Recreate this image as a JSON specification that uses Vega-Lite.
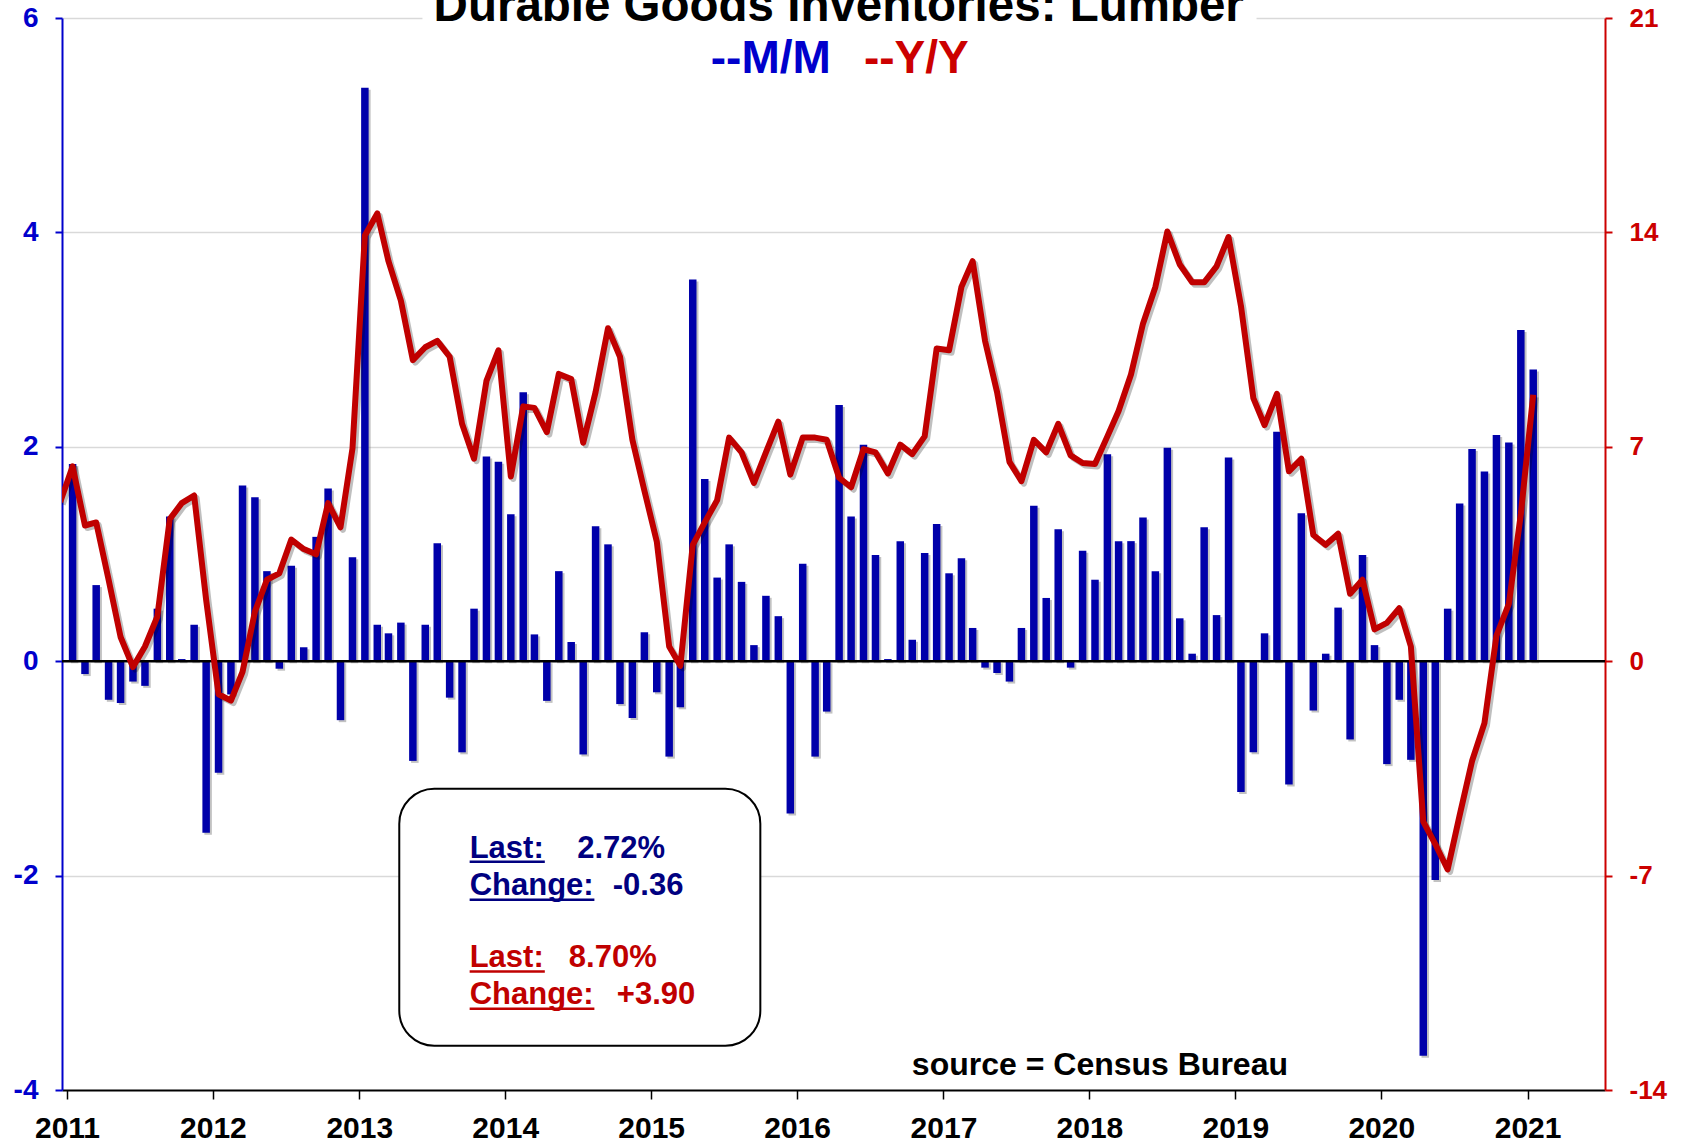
{
"$schema": "https://vega.github.io/schema/vega-lite/v6.json",
"width": 1543, "height": 1072,
"autosize": "none",
"padding": {"left": 62, "top": 18, "right": 82, "bottom": 52},
"background": "white",
"config": {"view": {"stroke": null}, "font": "Liberation Sans"},
"data": {"values": [
{"date":"2010-12-15","mm":null,"yy":5.2},
{"date":"2011-01-15","mm":1.84,"yy":6.36},{"date":"2011-02-15","mm":-0.12,"yy":4.43},{"date":"2011-03-15","mm":0.71,"yy":4.53},{"date":"2011-04-15","mm":-0.36,"yy":2.66},{"date":"2011-05-15","mm":-0.39,"yy":0.79},{"date":"2011-06-15","mm":-0.19,"yy":-0.19},{"date":"2011-07-15","mm":-0.23,"yy":0.48},{"date":"2011-08-15","mm":0.49,"yy":1.46},{"date":"2011-09-15","mm":1.35,"yy":4.64},{"date":"2011-10-15","mm":0.02,"yy":5.16},{"date":"2011-11-15","mm":0.34,"yy":5.41},{"date":"2011-12-15","mm":-1.60,"yy":2.0},
{"date":"2012-01-15","mm":-1.04,"yy":-1.08},{"date":"2012-02-15","mm":-0.31,"yy":-1.29},{"date":"2012-03-15","mm":1.64,"yy":-0.35},{"date":"2012-04-15","mm":1.53,"yy":1.62},{"date":"2012-05-15","mm":0.84,"yy":2.66},{"date":"2012-06-15","mm":-0.07,"yy":2.87},{"date":"2012-07-15","mm":0.89,"yy":3.97},{"date":"2012-08-15","mm":0.13,"yy":3.66},{"date":"2012-09-15","mm":1.16,"yy":3.49},{"date":"2012-10-15","mm":1.61,"yy":5.16},{"date":"2012-11-15","mm":-0.55,"yy":4.37},{"date":"2012-12-15","mm":0.97,"yy":6.95},
{"date":"2013-01-15","mm":5.35,"yy":13.9},{"date":"2013-02-15","mm":0.34,"yy":14.62},{"date":"2013-03-15","mm":0.26,"yy":13.06},{"date":"2013-04-15","mm":0.36,"yy":11.77},{"date":"2013-05-15","mm":-0.93,"yy":9.83},{"date":"2013-06-15","mm":0.34,"yy":10.25},{"date":"2013-07-15","mm":1.10,"yy":10.46},{"date":"2013-08-15","mm":-0.34,"yy":9.94},{"date":"2013-09-15","mm":-0.85,"yy":7.75},{"date":"2013-10-15","mm":0.49,"yy":6.61},{"date":"2013-11-15","mm":1.91,"yy":9.15},{"date":"2013-12-15","mm":1.86,"yy":10.15},
{"date":"2014-01-15","mm":1.37,"yy":6.03},{"date":"2014-02-15","mm":2.51,"yy":8.32},{"date":"2014-03-15","mm":0.25,"yy":8.27},{"date":"2014-04-15","mm":-0.37,"yy":7.48},{"date":"2014-05-15","mm":0.84,"yy":9.38},{"date":"2014-06-15","mm":0.18,"yy":9.21},{"date":"2014-07-15","mm":-0.87,"yy":7.13},{"date":"2014-08-15","mm":1.26,"yy":8.79},{"date":"2014-09-15","mm":1.09,"yy":10.87},{"date":"2014-10-15","mm":-0.40,"yy":9.94},{"date":"2014-11-15","mm":-0.53,"yy":7.23},{"date":"2014-12-15","mm":0.27,"yy":5.57},
{"date":"2015-01-15","mm":-0.29,"yy":3.91},{"date":"2015-02-15","mm":-0.89,"yy":0.48},{"date":"2015-03-15","mm":-0.43,"yy":-0.15},{"date":"2015-04-15","mm":3.56,"yy":3.80},{"date":"2015-05-15","mm":1.70,"yy":4.53},{"date":"2015-06-15","mm":0.78,"yy":5.26},{"date":"2015-07-15","mm":1.09,"yy":7.30},{"date":"2015-08-15","mm":0.74,"yy":6.82},{"date":"2015-09-15","mm":0.15,"yy":5.82},{"date":"2015-10-15","mm":0.61,"yy":6.82},{"date":"2015-11-15","mm":0.42,"yy":7.82},{"date":"2015-12-15","mm":-1.42,"yy":6.09},
{"date":"2016-01-15","mm":0.91,"yy":7.30},{"date":"2016-02-15","mm":-0.89,"yy":7.30},{"date":"2016-03-15","mm":-0.47,"yy":7.23},{"date":"2016-04-15","mm":2.39,"yy":5.99},{"date":"2016-05-15","mm":1.35,"yy":5.68},{"date":"2016-06-15","mm":2.02,"yy":6.92},{"date":"2016-07-15","mm":0.99,"yy":6.82},{"date":"2016-08-15","mm":0.02,"yy":6.13},{"date":"2016-09-15","mm":1.12,"yy":7.07},{"date":"2016-10-15","mm":0.20,"yy":6.76},{"date":"2016-11-15","mm":1.01,"yy":7.34},{"date":"2016-12-15","mm":1.28,"yy":10.21},
{"date":"2017-01-15","mm":0.82,"yy":10.15},{"date":"2017-02-15","mm":0.96,"yy":12.22},{"date":"2017-03-15","mm":0.31,"yy":13.06},{"date":"2017-04-15","mm":-0.06,"yy":10.46},{"date":"2017-05-15","mm":-0.11,"yy":8.79},{"date":"2017-06-15","mm":-0.19,"yy":6.51},{"date":"2017-07-15","mm":0.31,"yy":5.88},{"date":"2017-08-15","mm":1.45,"yy":7.23},{"date":"2017-09-15","mm":0.59,"yy":6.82},{"date":"2017-10-15","mm":1.23,"yy":7.75},{"date":"2017-11-15","mm":-0.06,"yy":6.72},{"date":"2017-12-15","mm":1.03,"yy":6.47},
{"date":"2018-01-15","mm":0.76,"yy":6.44},{"date":"2018-02-15","mm":1.93,"yy":7.34},{"date":"2018-03-15","mm":1.12,"yy":8.17},{"date":"2018-04-15","mm":1.12,"yy":9.36},{"date":"2018-05-15","mm":1.34,"yy":11.02},{"date":"2018-06-15","mm":0.84,"yy":12.22},{"date":"2018-07-15","mm":1.99,"yy":14.03},{"date":"2018-08-15","mm":0.40,"yy":12.95},{"date":"2018-09-15","mm":0.07,"yy":12.37},{"date":"2018-10-15","mm":1.25,"yy":12.37},{"date":"2018-11-15","mm":0.43,"yy":12.89},{"date":"2018-12-15","mm":1.90,"yy":13.85},
{"date":"2019-01-15","mm":-1.22,"yy":11.60},{"date":"2019-02-15","mm":-0.85,"yy":8.59},{"date":"2019-03-15","mm":0.26,"yy":7.71},{"date":"2019-04-15","mm":2.14,"yy":8.73},{"date":"2019-05-15","mm":-1.15,"yy":6.20},{"date":"2019-06-15","mm":1.38,"yy":6.61},{"date":"2019-07-15","mm":-0.46,"yy":4.12},{"date":"2019-08-15","mm":0.07,"yy":3.80},{"date":"2019-09-15","mm":0.50,"yy":4.16},{"date":"2019-10-15","mm":-0.73,"yy":2.20},{"date":"2019-11-15","mm":0.99,"yy":2.66},{"date":"2019-12-15","mm":0.15,"yy":1.04},
{"date":"2020-01-15","mm":-0.96,"yy":1.25},{"date":"2020-02-15","mm":-0.36,"yy":1.73},{"date":"2020-03-15","mm":-0.92,"yy":0.48},{"date":"2020-04-15","mm":-3.68,"yy":-5.24},{"date":"2020-05-15","mm":-2.04,"yy":-5.97},{"date":"2020-06-15","mm":0.49,"yy":-6.80},{"date":"2020-07-15","mm":1.47,"yy":-5.03},{"date":"2020-08-15","mm":1.98,"yy":-3.26},{"date":"2020-09-15","mm":1.77,"yy":-2.02},{"date":"2020-10-15","mm":2.11,"yy":0.83},{"date":"2020-11-15","mm":2.04,"yy":1.87},{"date":"2020-12-15","mm":3.09,"yy":4.80},
{"date":"2021-01-15","mm":2.72,"yy":8.70}
]},
"layer": [
{"layer": [
 {"data": {"values": [{}]},
  "mark": {"type": "rect", "fill": "white"},
  "encoding": {
   "x": {"datum": {"year": 2013, "month": 6, "date": 8}},
   "x2": {"datum": {"year": 2019, "month": 2, "date": 23}},
   "y": {"datum": 5.92}, "y2": {"datum": 6.1}}},
 {"mark": {"type": "bar", "size": 7.5, "color": "#777777", "opacity": 0.45, "xOffset": 2, "yOffset": 2},
  "encoding": {
   "x": {"field": "date", "type": "temporal", "scale": {"domain": [{"year": 2011, "month": 1, "date": 1}, {"year": 2021, "month": 7, "date": 1}], "nice": false}},
   "y": {"field": "mm", "type": "quantitative", "scale": {"domain": [-4, 6], "nice": false, "zero": false}}}},
 {"mark": {"type": "bar", "size": 7.5, "color": "#0000AA"},
  "encoding": {
   "x": {"field": "date", "type": "temporal",
    "scale": {"domain": [{"year": 2011, "month": 1, "date": 1}, {"year": 2021, "month": 7, "date": 1}], "nice": false},
    "axis": {"title": null, "format": "%Y", "tickCount": {"interval": "year", "step": 1}, "grid": false,
     "labelFont": "Liberation Sans", "labelFontWeight": "bold", "labelFontSize": 30, "labelColor": "black",
     "labelPadding": 14, "labelFlush": false, "labelOverlap": false,
     "domainColor": "black", "domainWidth": 2, "tickColor": "black", "tickSize": 9, "tickWidth": 1.5}},
   "y": {"field": "mm", "type": "quantitative",
    "scale": {"domain": [-4, 6], "nice": false, "zero": false},
    "axis": {"title": null, "orient": "left", "values": [-4, -2, 0, 2, 4, 6], "labelExpr": "'' + datum.value",
     "labelFont": "Liberation Sans", "labelFontWeight": "bold", "labelFontSize": 28, "labelColor": "#0000CC",
     "labelPadding": 17, "domainColor": "#0000CC", "domainWidth": 2, "tickColor": "#0000CC", "tickSize": 7, "tickWidth": 2,
     "grid": true, "gridColor": "#D9D9D9", "gridWidth": 1.5,
     "gridOpacity": {"condition": {"test": "datum.value === -4 || datum.value === 0", "value": 0}, "value": 1}}}}},
 {"data": {"values": [{}]},
  "mark": {"type": "rule", "color": "black", "strokeWidth": 2.5},
  "encoding": {"y": {"datum": 0}}},
 {"data": {"values": [{}]},
  "mark": {"type": "text", "text": "Durable Goods Inventories: Lumber", "align": "center", "baseline": "alphabetic", "font": "Liberation Sans", "fontWeight": "bold", "fontSize": 47.5, "color": "black"},
  "encoding": {"x": {"datum": {"year": 2016, "month": 4, "date": 14}}, "y": {"datum": 5.975}}},
 {"data": {"values": [{}]},
  "mark": {"type": "text", "text": "--M/M", "align": "left", "baseline": "alphabetic", "font": "Liberation Sans", "fontWeight": "bold", "fontSize": 46, "color": "#0000CC"},
  "encoding": {"x": {"datum": {"year": 2015, "month": 5, "date": 30}}, "y": {"datum": 5.49}}},
 {"data": {"values": [{}]},
  "mark": {"type": "text", "text": "--Y/Y", "align": "left", "baseline": "alphabetic", "font": "Liberation Sans", "fontWeight": "bold", "fontSize": 46, "color": "#CC0000"},
  "encoding": {"x": {"datum": {"year": 2016, "month": 6, "date": 16}}, "y": {"datum": 5.49}}},
 {"data": {"values": [{}]},
  "mark": {"type": "rect", "fill": "black", "opacity": 0.28, "cornerRadius": 35, "xOffset": 5, "yOffset": 5},
  "encoding": {
   "x": {"datum": {"year": 2013, "month": 4, "date": 11}},
   "x2": {"datum": {"year": 2015, "month": 10, "date": 1}},
   "y": {"datum": -1.19}, "y2": {"datum": -3.587}}},
 {"data": {"values": [{}]},
  "mark": {"type": "rect", "fill": "white", "stroke": "black", "strokeWidth": 2, "cornerRadius": 35},
  "encoding": {
   "x": {"datum": {"year": 2013, "month": 4, "date": 11}},
   "x2": {"datum": {"year": 2015, "month": 10, "date": 1}},
   "y": {"datum": -1.19}, "y2": {"datum": -3.587}}},
 {"data": {"values": [{}]},
  "mark": {"type": "text", "text": "Last:", "align": "left", "baseline": "alphabetic", "font": "Liberation Sans", "fontWeight": "bold", "fontSize": 31, "color": "#000080"},
  "encoding": {"x": {"datum": {"year": 2013, "month": 10, "date": 4}}, "y": {"datum": -1.833}}},
 {"data": {"values": [{}]},
  "mark": {"type": "text", "text": "2.72%", "align": "left", "baseline": "alphabetic", "font": "Liberation Sans", "fontWeight": "bold", "fontSize": 31, "color": "#000080"},
  "encoding": {"x": {"datum": {"year": 2014, "month": 6, "date": 30}}, "y": {"datum": -1.833}}},
 {"data": {"values": [{}]},
  "mark": {"type": "text", "text": "Change:", "align": "left", "baseline": "alphabetic", "font": "Liberation Sans", "fontWeight": "bold", "fontSize": 31, "color": "#000080"},
  "encoding": {"x": {"datum": {"year": 2013, "month": 10, "date": 4}}, "y": {"datum": -2.178}}},
 {"data": {"values": [{}]},
  "mark": {"type": "text", "text": "-0.36", "align": "left", "baseline": "alphabetic", "font": "Liberation Sans", "fontWeight": "bold", "fontSize": 31, "color": "#000080"},
  "encoding": {"x": {"datum": {"year": 2014, "month": 9, "date": 27}}, "y": {"datum": -2.178}}},
 {"data": {"values": [{}]},
  "mark": {"type": "text", "text": "Last:", "align": "left", "baseline": "alphabetic", "font": "Liberation Sans", "fontWeight": "bold", "fontSize": 31, "color": "#C00000"},
  "encoding": {"x": {"datum": {"year": 2013, "month": 10, "date": 4}}, "y": {"datum": -2.857}}},
 {"data": {"values": [{}]},
  "mark": {"type": "text", "text": "8.70%", "align": "left", "baseline": "alphabetic", "font": "Liberation Sans", "fontWeight": "bold", "fontSize": 31, "color": "#C00000"},
  "encoding": {"x": {"datum": {"year": 2014, "month": 6, "date": 9}}, "y": {"datum": -2.857}}},
 {"data": {"values": [{}]},
  "mark": {"type": "text", "text": "Change:", "align": "left", "baseline": "alphabetic", "font": "Liberation Sans", "fontWeight": "bold", "fontSize": 31, "color": "#C00000"},
  "encoding": {"x": {"datum": {"year": 2013, "month": 10, "date": 4}}, "y": {"datum": -3.195}}},
 {"data": {"values": [{}]},
  "mark": {"type": "text", "text": "+3.90", "align": "left", "baseline": "alphabetic", "font": "Liberation Sans", "fontWeight": "bold", "fontSize": 31, "color": "#C00000"},
  "encoding": {"x": {"datum": {"year": 2014, "month": 10, "date": 7}}, "y": {"datum": -3.195}}},
 {"data": {"values": [{}]},
  "mark": {"type": "rule", "color": "#000080", "strokeWidth": 2.5},
  "encoding": {"x": {"datum": {"year": 2013, "month": 10, "date": 4}}, "x2": {"datum": {"year": 2014, "month": 4, "date": 10}}, "y": {"datum": -1.87}}},
 {"data": {"values": [{}]},
  "mark": {"type": "rule", "color": "#000080", "strokeWidth": 2.5},
  "encoding": {"x": {"datum": {"year": 2013, "month": 10, "date": 4}}, "x2": {"datum": {"year": 2014, "month": 8, "date": 12}}, "y": {"datum": -2.225}}},
 {"data": {"values": [{}]},
  "mark": {"type": "rule", "color": "#C00000", "strokeWidth": 2.5},
  "encoding": {"x": {"datum": {"year": 2013, "month": 10, "date": 4}}, "x2": {"datum": {"year": 2014, "month": 4, "date": 10}}, "y": {"datum": -2.894}}},
 {"data": {"values": [{}]},
  "mark": {"type": "rule", "color": "#C00000", "strokeWidth": 2.5},
  "encoding": {"x": {"datum": {"year": 2013, "month": 10, "date": 4}}, "x2": {"datum": {"year": 2014, "month": 8, "date": 12}}, "y": {"datum": -3.241}}},
 {"data": {"values": [{}]},
  "mark": {"type": "text", "text": "source = Census Bureau", "align": "left", "baseline": "alphabetic", "font": "Liberation Sans", "fontWeight": "bold", "fontSize": 32, "color": "black"},
  "encoding": {"x": {"datum": {"year": 2016, "month": 10, "date": 14}}, "y": {"datum": -3.857}}}
]},
{"layer": [
 {"mark": {"type": "line", "color": "#000000", "opacity": 0.25, "strokeWidth": 6, "strokeJoin": "round", "xOffset": 2.5, "yOffset": 2.5, "clip": true},
  "encoding": {
   "x": {"field": "date", "type": "temporal"},
   "y": {"field": "yy", "type": "quantitative", "scale": {"domain": [-14, 21], "nice": false, "zero": false}}}},
 {"mark": {"type": "line", "color": "#C00000", "strokeWidth": 6, "strokeJoin": "round", "clip": true},
  "encoding": {
   "x": {"field": "date", "type": "temporal"},
   "y": {"field": "yy", "type": "quantitative",
    "scale": {"domain": [-14, 21], "nice": false, "zero": false},
    "axis": {"title": null, "orient": "right", "values": [-14, -7, 0, 7, 14, 21], "labelExpr": "'' + datum.value", "grid": false,
     "labelFont": "Liberation Sans", "labelFontWeight": "bold", "labelFontSize": 26, "labelColor": "#CC0000",
     "labelPadding": 17, "domainColor": "#CC0000", "domainWidth": 2, "tickColor": "#CC0000", "tickSize": 7, "tickWidth": 2}}}}
]}
],
"resolve": {"scale": {"y": "independent"}}
}
